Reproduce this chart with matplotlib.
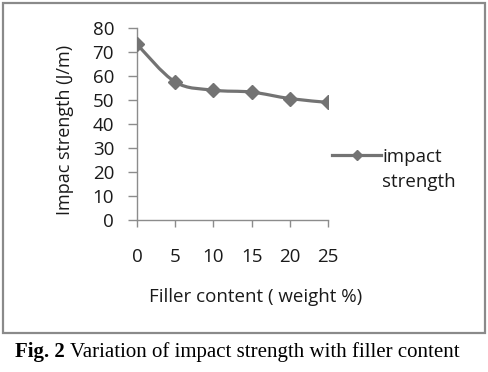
import matplotlib.pyplot as plt
from matplotlib.path import Path
from matplotlib.patches import PathPatch, Rectangle
from matplotlib.lines import Line2D
import numpy as np

# Data
filler = [0, 5, 10, 15, 20, 25]
impact = [73.2, 57.5, 54.1, 53.3, 50.6, 49.0]
y_ticks = [0, 10, 20, 30, 40, 50, 60, 70, 80]

grey = '#737373'
axis_grey = '#8c8c8c'
txt = '#1a1a1a'
fs = 13.5

plt.rcParams['font.family'] = ['Open Sans', 'DejaVu Sans']

fig = plt.figure(figsize=(4.88, 3.72), dpi=100)
ax = fig.add_axes([137 / 488, 1 - 220 / 372, (328 - 137) / 488, (220 - 28) / 372])

# smoothed line like Excel: Catmull-Rom -> cubic bezier through the data points
x = np.array(filler, float)
y = np.array(impact, float)
verts = [(x[0], y[0])]
codes = [Path.MOVETO]
t = 1 / 6
for i in range(len(x) - 1):
    x0, y0 = (x[i - 1], y[i - 1]) if i > 0 else (x[i], y[i])
    x3, y3 = (x[i + 2], y[i + 2]) if i + 2 < len(x) else (x[i + 1], y[i + 1])
    c1 = (x[i] + (x[i + 1] - x0) * t, y[i] + (y[i + 1] - y0) * t)
    c2 = (x[i + 1] - (x3 - x[i]) * t, y[i + 1] - (y3 - y[i]) * t)
    verts += [c1, c2, (x[i + 1], y[i + 1])]
    codes += [Path.CURVE4] * 3
ax.add_patch(PathPatch(Path(verts, codes), facecolor='none', edgecolor=grey,
                       lw=2.3, capstyle='round', zorder=2))
ax.plot(filler, impact, ls='none', marker='D', ms=7, color=grey, zorder=3)

ax.set_xlim(0, 25)
ax.set_ylim(0, 80)
ax.set_xticks(filler)
ax.set_yticks(y_ticks)
for s in ['top', 'right']:
    ax.spines[s].set_visible(False)
for s in ['left', 'bottom']:
    ax.spines[s].set_color(axis_grey)
    ax.spines[s].set_linewidth(1.0)
ax.tick_params(axis='y', direction='out', length=6.5, width=1, color=axis_grey,
               pad=10, labelsize=fs, labelcolor=txt)
ax.tick_params(axis='x', direction='out', length=5, width=1, color=axis_grey,
               pad=15, labelsize=fs, labelcolor=txt)

ax.set_ylabel('Impac strength (J/m)', fontsize=13, color=txt)
ax.yaxis.set_label_coords((65 - 137) / (328 - 137), 0.47)
ax.yaxis.label.set_va('center')
fig.text(256 / 488, 1 - 297 / 372, 'Filler content ( weight %)', fontsize=fs,
         color=txt, ha='center', va='center')

# legend: marker line sits on the first text line, as in Excel
handle = Line2D([], [], color=grey, lw=2.3, marker='D', ms=5)
leg = fig.legend([handle], ['impact'], loc='center left',
                 bbox_to_anchor=(323 / 488, 1 - 157 / 372), frameon=False,
                 fontsize=fs, handlelength=2.6, handletextpad=0.05, borderpad=0,
                 labelcolor=txt)
fig.canvas.draw()
lb = leg.get_texts()[0].get_window_extent()
fig.text(lb.x0 / 488, 1 - 182 / 372, 'strength', fontsize=fs, color=txt,
         ha='left', va='center')

# outer frame of the chart
fig.patches.append(Rectangle((3 / 488, 1 - 333 / 372), 482 / 488, 330 / 372,
                             transform=fig.transFigure, fill=False,
                             edgecolor='#8a8a8a', lw=1.6))

cap = fig.text(15 / 488, 1 - 352 / 372, 'Fig. 2', fontsize=15, family='Liberation Serif',
               weight='bold', ha='left', va='center')
fig.canvas.draw()
bb = cap.get_window_extent()
fig.text((bb.x1 + 5) / 488, 1 - 352 / 372, 'Variation of impact strength with filler content',
         fontsize=15, family='Liberation Serif', ha='left', va='center')

fig.savefig('out.png', dpi=100)
